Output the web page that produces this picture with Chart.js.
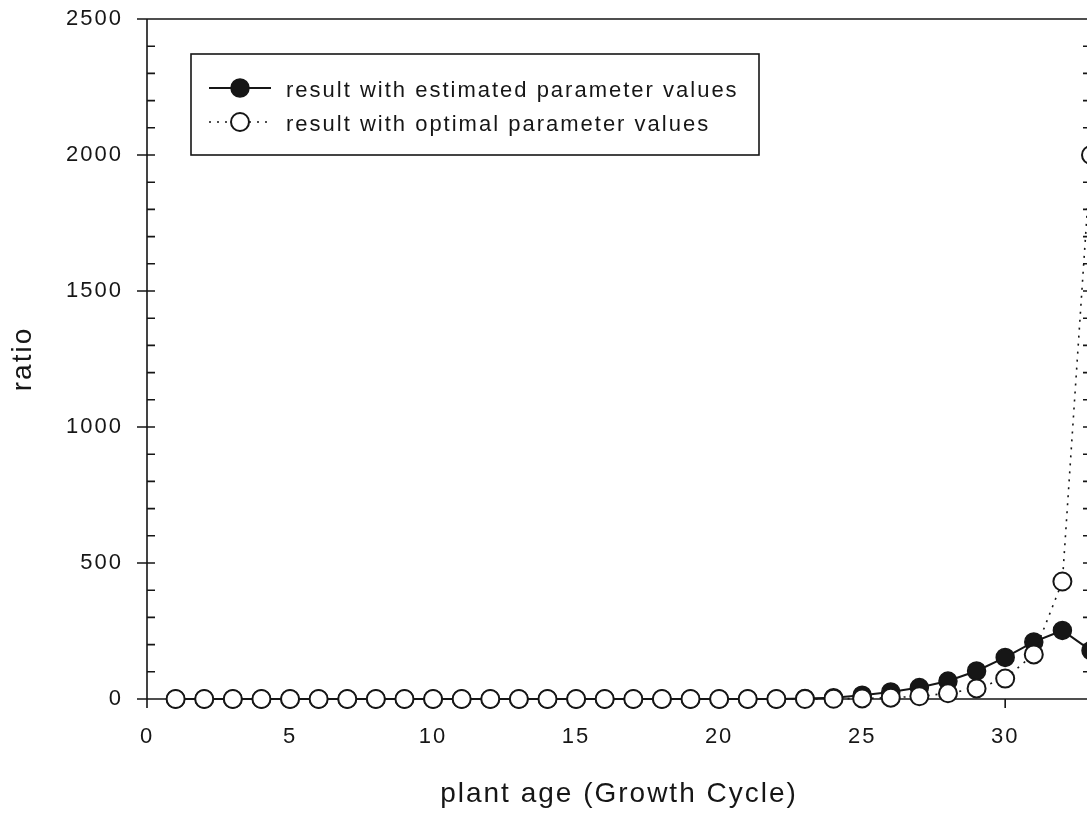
<!DOCTYPE html>
<html>
<head>
<meta charset="utf-8">
<script src="https://cdn.jsdelivr.net/npm/chart.js@4/dist/chart.umd.min.js"></script>
<style>
html,body{margin:0;padding:0;overflow:hidden;background:#fff;width:1087px;height:818px}
canvas{display:block}
</style>
</head>
<body>
<canvas id="c" width="1130" height="818"></canvas>
<script>
// ---- data ----
const growthCycle = [1,2,3,4,5,6,7,8,9,10,11,12,13,14,15,16,17,18,19,20,21,22,23,24,25,26,27,28,29,30,31,32,33];
const estimatedRatio = [0,0,0,0,0,0,0,0,0,0,0,0,0,0,0,0,0,0,0,0,0,0,2,5,14,26,42,66,103,153,210,252,178];
const optimalRatio   = [0,0,0,0,0,0,0,0,0,0,0,0,0,0,0,0,0,0,0,0,0,0,0,1,2,5,10,21,39,75,164,432,2000];
const xTickValues = [0,5,10,15,20,25,30];
const yTickValues = [0,500,1000,1500,2000,2500];
const yMinorStep = 100;
const seriesLabels = ['result with estimated parameter values', 'result with optimal parameter values'];
const xTitle = 'plant age (Growth Cycle)';
const yTitle = 'ratio';

const ink = '#161616';
const fontFamily = '"Liberation Sans", Arial, sans-serif';
Chart.defaults.font.family = fontFamily;
Chart.defaults.color = ink;

const spacingPlugin = {
  id: 'spacing',
  beforeDraw(chart) { chart.ctx.letterSpacing = '2px'; }
};

const framePlugin = {
  id: 'frame',
  beforeDatasetsDraw(chart) {
    const {ctx, chartArea: a, scales: {x, y}} = chart;
    ctx.save();
    ctx.strokeStyle = ink;
    ctx.lineWidth = 1.6;
    ctx.beginPath();
    ctx.moveTo(a.left, a.top); ctx.lineTo(a.right, a.top);
    ctx.lineTo(a.right, a.bottom); ctx.lineTo(a.left, a.bottom); ctx.closePath();
    for (let v = y.min; v <= y.max + 0.001; v += yMinorStep) {
      const p = y.getPixelForValue(v);
      const major = yTickValues.includes(v);
      ctx.moveTo(a.left - (major ? 10 : 0), p); ctx.lineTo(a.left + 8, p);
      ctx.moveTo(a.right - 8, p); ctx.lineTo(a.right + (major ? 10 : 0), p);
    }
    xTickValues.forEach(v => {
      const p = x.getPixelForValue(v);
      ctx.moveTo(p, a.bottom); ctx.lineTo(p, a.bottom + 9);
    });
    ctx.stroke();
    ctx.restore();
  }
};

const legendPlugin = {
  id: 'boxLegend',
  afterDraw(chart) {
    const ctx = chart.ctx;
    ctx.save();
    ctx.strokeStyle = ink;
    ctx.lineWidth = 1.6;
    ctx.strokeRect(191, 54, 568, 101);
    chart.data.datasets.forEach((ds, i) => {
      const yy = 88 + i * 34;
      ctx.strokeStyle = ink;
      ctx.setLineDash(ds.borderDash || []);
      ctx.lineWidth = ds.borderWidth;
      ctx.beginPath(); ctx.moveTo(209, yy); ctx.lineTo(271, yy); ctx.stroke();
      ctx.setLineDash([]);
      ctx.beginPath(); ctx.arc(240, yy, ds.pointRadius, 0, Math.PI * 2);
      ctx.fillStyle = ds.pointBackgroundColor; ctx.fill();
      ctx.lineWidth = ds.pointBorderWidth; ctx.strokeStyle = ds.pointBorderColor; ctx.stroke();
      ctx.fillStyle = ink;
      ctx.font = '22px ' + fontFamily;
      ctx.textAlign = 'left';
      ctx.textBaseline = 'alphabetic';
      ctx.fillText(ds.label, 286, yy + 9);
    });
    ctx.restore();
  }
};

new Chart(document.getElementById('c'), {
  type: 'line',
  data: {
    labels: growthCycle,
    datasets: [
      {
        label: seriesLabels[0],
        data: growthCycle.map((g, i) => ({x: g, y: estimatedRatio[i]})),
        borderColor: ink, borderWidth: 2,
        pointRadius: 9, pointBackgroundColor: ink, pointBorderColor: ink, pointBorderWidth: 1.5,
        tension: 0, clip: false, order: 1
      },
      {
        label: seriesLabels[1],
        data: growthCycle.map((g, i) => ({x: g, y: optimalRatio[i]})),
        borderColor: ink, borderWidth: 1.6, borderDash: [2, 6],
        pointRadius: 9, pointBackgroundColor: '#ffffff', pointBorderColor: ink, pointBorderWidth: 2,
        tension: 0, clip: false, order: 0
      }
    ]
  },
  options: {
    responsive: false,
    animation: false,
    devicePixelRatio: 1,
    layout: {padding: {left: 0, right: 39, top: 19, bottom: 0}},
    plugins: {legend: {display: false}, tooltip: {enabled: false}},
    scales: {
      x: {
        type: 'linear', min: 0, max: 33,
        grid: {display: false, drawTicks: false},
        border: {display: false},
        afterBuildTicks: s => { s.ticks = xTickValues.map(v => ({value: v})); },
        afterFit: s => { s.height = 119; s.paddingLeft = 0; s.paddingRight = 0; },
        ticks: {padding: 25, font: {size: 22}, color: ink, maxRotation: 0, callback: v => String(v)},
        title: {display: true, text: xTitle, font: {size: 28}, color: ink, padding: {top: 0, bottom: 7}}
      },
      y: {
        type: 'linear', min: 0, max: 2500,
        grid: {display: false, drawTicks: false},
        border: {display: false},
        afterBuildTicks: s => { s.ticks = yTickValues.map(v => ({value: v})); },
        afterFit: s => { s.width = 147; s.paddingTop = 0; s.paddingBottom = 0; },
        ticks: {padding: 24, font: {size: 22}, color: ink, callback: v => String(v)},
        title: {display: true, text: yTitle, font: {size: 28}, color: ink, padding: {top: 6, bottom: 0}}
      }
    }
  },
  plugins: [spacingPlugin, framePlugin, legendPlugin]
});
</script>
</body>
</html>
